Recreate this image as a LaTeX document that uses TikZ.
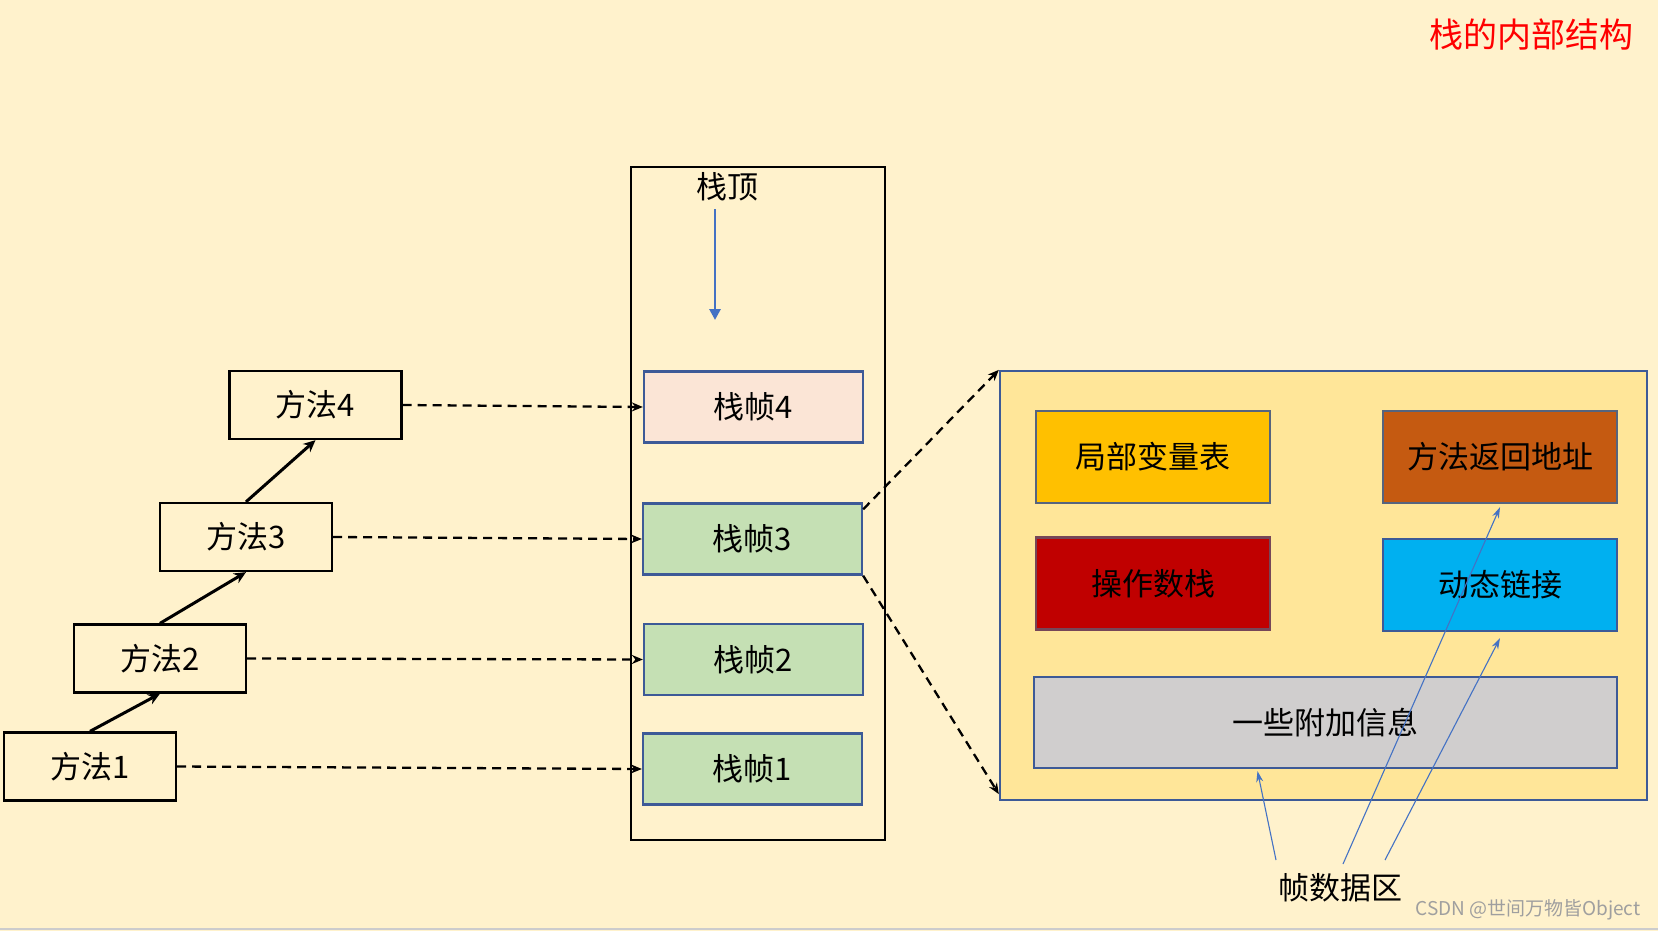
\documentclass[tikz,border=0pt]{standalone}
\usepackage{fontspec}
\setmainfont{Noto Sans CJK SC}
\usetikzlibrary{arrows.meta,calc}
\definecolor{bg}{HTML}{FFF2CC}
\definecolor{bigfill}{HTML}{FFE699}
\definecolor{pinkf}{HTML}{FBE5D6}
\definecolor{greenf}{HTML}{C5E0B4}
\definecolor{bordb}{HTML}{3D5A97}
\definecolor{bordg}{HTML}{56647E}
\definecolor{localf}{HTML}{FFC000}
\definecolor{retf}{HTML}{C55A11}
\definecolor{opf}{HTML}{C00000}
\definecolor{dynf}{HTML}{00B0F0}
\definecolor{extraf}{HTML}{D0CECE}
\definecolor{arrb}{HTML}{4472C4}
\tikzset{
  lbl/.style={font=\fontsize{31}{36}\selectfont, inner sep=0pt},
  mbox/.style={lbl, draw=black, line width=2.3pt, minimum width=172pt, minimum height=68pt},
  fbox/.style={lbl, draw=bordb, line width=2.3pt, minimum width=219pt, minimum height=71pt},
  cbox/.style={lbl, draw=bordg, line width=2.3pt, minimum width=234pt, minimum height=92pt},
  solidarr/.style={line width=3pt, -{Stealth[length=12pt,width=11pt]}},
  dasharr/.style={line width=2.3pt, dashed, dash pattern=on 9pt off 6pt, -{Stealth[length=11pt,width=9pt]}},
  thinarr/.style={draw=arrb, line width=1.1pt, -{Stealth[length=11pt,width=7pt]}}
}
\begin{document}
\begin{tikzpicture}[x=1pt,y=-1pt]
\useasboundingbox (0,0) rectangle (1658,931);
\fill[bg] (0,0) rectangle (1658,931);
\draw[gray!40, line width=2pt] (0,929) -- (1658,929);

% title
\node[font=\fontsize{34}{40}\selectfont, text=red, inner sep=0pt] (title) at (1531,35) {栈的内部结构};

% stack frame
\node[draw=black, line width=2.3pt, minimum width=254pt, minimum height=673pt, inner sep=0pt] (stack) at (758,503.5) {};
\node[lbl] (top) at (727,187) {栈顶};
\coordinate (ta) at (715,209);
\coordinate (tb) at (715,320);
\draw[draw=arrb, line width=2.8pt, -{Triangle[length=11pt,width=11pt]}] (ta) -- (tb);

\node[fbox, fill=pinkf] (f4) at (753.5,407) {栈帧4};
\node[fbox, fill=greenf] (f3) at (752.5,539) {栈帧3};
\node[fbox, fill=greenf] (f2) at (753.5,659.5) {栈帧2};
\node[fbox, fill=greenf] (f1) at (752.5,769) {栈帧1};

% methods
\node[mbox] (m4) at (315.5,405) {方法4};
\node[mbox] (m3) at (246,537) {方法3};
\node[mbox] (m2) at (160,658.5) {方法2};
\node[mbox] (m1) at (90,766.5) {方法1};

\draw[solidarr] (m1.north) -- (m2.south);
\draw[solidarr] (m2.north) -- (m3.south);
\draw[solidarr] (m3.north) -- (m4.south);

\draw[dasharr] (m4.east) -- (f4.west);
\draw[dasharr] (m3.east) -- (f3.west);
\draw[dasharr] (m2.east) -- (f2.west);
\draw[dasharr] (m1.east) -- (f1.west);

% big box
\node[draw=bordb, line width=2.3pt, fill=bigfill, minimum width=647pt, minimum height=429pt, inner sep=0pt] (big) at (1323.5,585.5) {};
\draw[dasharr] ([yshift=-7pt]f3.north east) -- (big.north west);
\draw[dasharr] (f3.south east) -- ([yshift=7pt]big.south west);

\node[cbox, fill=localf] (local) at (1153,457) {局部变量表};
\node[cbox, fill=retf] (ret) at (1500,457) {方法返回地址};
\node[cbox, fill=opf, draw=bordg!70!opf] (op) at (1153,583.5) {操作数栈};
\node[cbox, fill=dynf, draw=bordb] (dyn) at (1500,585) {动态链接};
\node[lbl, draw=bordb, line width=2.3pt, fill=extraf, minimum width=583pt, minimum height=91pt] (extra) at (1325.5,722.5) {一些附加信息};

% frame data label
\node[lbl] (fd) at (1340,888) {帧数据区};
\coordinate (s1) at (1276,860);
\coordinate (s2) at (1343,864);
\coordinate (s3) at (1385,860);
\draw[thinarr] (s1) -- ([xshift=-68pt,yshift=-2pt]extra.south);
\draw[thinarr] (s2) -- ([yshift=-3pt]ret.south);
\draw[thinarr] (s3) -- ([yshift=-6pt]dyn.south);

% watermark
\node[font=\fontsize{19}{22}\selectfont, text=gray!75, inner sep=0pt] (wm) at (1528,910) {CSDN @世间万物皆Object};
\end{tikzpicture}
\end{document}
